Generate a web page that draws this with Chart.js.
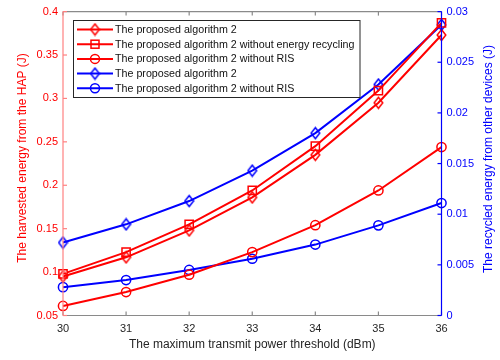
<!DOCTYPE html>
<html>
<head>
<meta charset="utf-8">
<script src="https://cdn.jsdelivr.net/npm/chart.js@4.4.0/dist/chart.umd.min.js"></script>
<style>
  html, body { margin: 0; padding: 0; background: #fff; }
  #chart { display: block; }
</style>
</head>
<body>
<canvas id="chart" width="500" height="360"></canvas>
<script>
var powerLevels = ['30', '31', '32', '33', '34', '35', '36'];

// harvested energy from the HAP (J) - left axis
var harvestProposed = [0.095, 0.117, 0.148, 0.186, 0.235, 0.295, 0.373];
var harvestNoRecycling = [0.098, 0.123, 0.155, 0.194, 0.245, 0.309, 0.387];
var harvestNoRIS = [0.061, 0.077, 0.097, 0.123, 0.154, 0.194, 0.244];

// recycled energy from other devices (J) - right axis
var recycledProposed = [0.0072, 0.0090, 0.0113, 0.0143, 0.0180, 0.0228, 0.0287];
var recycledNoRIS = [0.0028, 0.0035, 0.0045, 0.0056, 0.0070, 0.0089, 0.0111];

var leftTicks = [0.05, 0.1, 0.15, 0.2, 0.25, 0.3, 0.35, 0.4];
var leftTickLabels = ['0.05', '0.1', '0.15', '0.2', '0.25', '0.3', '0.35', '0.4'];
var rightTicks = [0, 0.005, 0.01, 0.015, 0.02, 0.025, 0.03];
var rightTickLabels = ['0', '0.005', '0.01', '0.015', '0.02', '0.025', '0.03'];

var RED = 'rgb(255, 0, 0)';
var BLUE = 'rgb(0, 0, 255)';
var FONT = '"Liberation Sans", Arial, Helvetica, sans-serif';

// matlab style diamond, a bit taller than wide
function diamond(color) {
	var c = document.createElement('canvas');
	c.width = 11;
	c.height = 14;
	var g = c.getContext('2d');
	g.strokeStyle = color;
	g.lineWidth = 1.5;
	g.beginPath();
	g.moveTo(5.5, 1.5);
	g.lineTo(9.8, 7);
	g.lineTo(5.5, 12.5);
	g.lineTo(1.2, 7);
	g.closePath();
	g.stroke();
	return c;
}

function series(label, data, color, marker, axis) {
	return {
		label: label,
		data: data,
		yAxisID: axis,
		borderColor: color,
		borderWidth: 2,
		pointStyle: marker === 'diamond' ? diamond(color) : marker,
		pointRadius: marker === 'rect' ? 5.8 : 4.6,
		pointBorderWidth: 1.5,
		pointBorderColor: color,
		pointBackgroundColor: 'rgba(0,0,0,0)',
		tension: 0,
		fill: false
	};
}

function line(ctx, x1, y1, x2, y2) {
	ctx.beginPath();
	ctx.moveTo(x1, y1);
	ctx.lineTo(x2, y2);
	ctx.stroke();
}

// axes box with inward ticks, y titles, and the line+marker legend
var matlabFrame = {
	id: 'matlabFrame',
	afterDatasetsDraw: function (chart) {
		var ctx = chart.ctx;
		var a = chart.chartArea;
		var sx = chart.scales.x, yl = chart.scales.y, yr = chart.scales.y1;
		ctx.save();
		ctx.lineWidth = 1.2;

		ctx.strokeStyle = '#8a8a8a';
		line(ctx, a.left, a.top, a.right, a.top);
		line(ctx, a.left, a.bottom, a.right, a.bottom);
		sx.ticks.forEach(function (t, i) {
			var px = sx.getPixelForTick(i);
			line(ctx, px, a.bottom, px, a.bottom - 4);
			line(ctx, px, a.top, px, a.top + 4);
		});

		ctx.strokeStyle = '#ff8080';
		line(ctx, a.left, a.top, a.left, a.bottom);
		leftTicks.forEach(function (v) {
			var py = yl.getPixelForValue(v);
			line(ctx, a.left, py, a.left + 4, py);
		});

		ctx.strokeStyle = BLUE;
		line(ctx, a.right, a.top, a.right, a.bottom);
		rightTicks.forEach(function (v) {
			var py = yr.getPixelForValue(v);
			line(ctx, a.right, py, a.right - 4, py);
		});

		// y axis titles
		ctx.font = '12px ' + FONT;
		ctx.textAlign = 'center';
		ctx.textBaseline = 'middle';
		ctx.fillStyle = RED;
		ctx.save();
		ctx.translate(23, 158);
		ctx.rotate(-Math.PI / 2);
		ctx.fillText('The harvested energy from the HAP (J)', 0, 0);
		ctx.restore();
		ctx.fillStyle = BLUE;
		ctx.save();
		ctx.translate(489, 159);
		ctx.rotate(-Math.PI / 2);
		ctx.fillText('The recycled energy from other devices (J)', 0, 0);
		ctx.restore();

		// legend
		var bx = 73.5, by = 20.5, bw = 286.5, bh = 77;
		ctx.fillStyle = '#ffffff';
		ctx.fillRect(bx, by, bw, bh);
		ctx.strokeStyle = '#262626';
		ctx.lineWidth = 1;
		ctx.strokeRect(bx, by, bw, bh);
		ctx.font = '10.7px ' + FONT;
		ctx.textAlign = 'left';
		ctx.fillStyle = '#111111';
		chart.data.datasets.forEach(function (ds, i) {
			var ry = 29.5 + i * 14.7;
			ctx.strokeStyle = ds.borderColor;
			ctx.lineWidth = 2;
			line(ctx, 77, ry, 113, ry);
			ctx.lineWidth = 1.5;
			if (ds.pointStyle instanceof HTMLCanvasElement) {
				ctx.drawImage(ds.pointStyle, 95 - ds.pointStyle.width / 2, ry - ds.pointStyle.height / 2);
			} else if (ds.pointStyle === 'rect') {
				ctx.strokeRect(91, ry - 4, 8, 8);
			} else {
				ctx.beginPath();
				ctx.arc(95, ry, 4.5, 0, Math.PI * 2);
				ctx.stroke();
			}
			ctx.fillText(ds.label, 115, ry + 0.5);
		});
		ctx.restore();
	}
};

var ctx = document.getElementById('chart').getContext('2d');
var myChart = new Chart(ctx, {
	type: 'line',
	data: {
		labels: powerLevels,
		datasets: [
			series('The proposed algorithm 2', harvestProposed, RED, 'diamond', 'y'),
			series('The proposed algorithm 2 without energy recycling', harvestNoRecycling, RED, 'rect', 'y'),
			series('The proposed algorithm 2 without RIS', harvestNoRIS, RED, 'circle', 'y'),
			series('The proposed algorithm 2', recycledProposed, BLUE, 'diamond', 'y1'),
			series('The proposed algorithm 2 without RIS', recycledNoRIS, BLUE, 'circle', 'y1')
		]
	},
	options: {
		responsive: false,
		devicePixelRatio: 1,
		animation: false,
		events: [],
		layout: { padding: { top: 11.5, left: 0, right: 0, bottom: 0 } },
		plugins: {
			legend: { display: false },
			tooltip: { enabled: false }
		},
		scales: {
			x: {
				grid: { display: false, drawTicks: false },
				border: { display: false },
				ticks: { color: '#262626', font: { family: FONT, size: 11 }, padding: 7, maxRotation: 0, autoSkip: false },
				title: {
					display: true,
					text: 'The maximum transmit power threshold (dBm)',
					color: '#262626',
					font: { family: FONT, size: 12 },
					padding: { top: 0, bottom: 8 }
				},
				afterFit: function (s) { s.height = 44.5; }
			},
			y: {
				position: 'left',
				min: 0.05,
				max: 0.4,
				grid: { display: false, drawTicks: false },
				border: { display: false },
				afterBuildTicks: function (s) { s.ticks = leftTicks.map(function (v) { return { value: v }; }); },
				ticks: {
					color: RED,
					font: { family: FONT, size: 11 },
					padding: 5,
					callback: function (v, i) { return leftTickLabels[i]; }
				},
				afterFit: function (s) { s.width = 63; }
			},
			y1: {
				position: 'right',
				min: 0,
				max: 0.03,
				grid: { display: false, drawTicks: false },
				border: { display: false },
				afterBuildTicks: function (s) { s.ticks = rightTicks.map(function (v) { return { value: v }; }); },
				ticks: {
					color: BLUE,
					font: { family: FONT, size: 11 },
					padding: 5,
					callback: function (v, i) { return rightTickLabels[i]; }
				},
				afterFit: function (s) { s.width = 58.5; }
			}
		}
	},
	plugins: [matlabFrame]
});
</script>
</body>
</html>
